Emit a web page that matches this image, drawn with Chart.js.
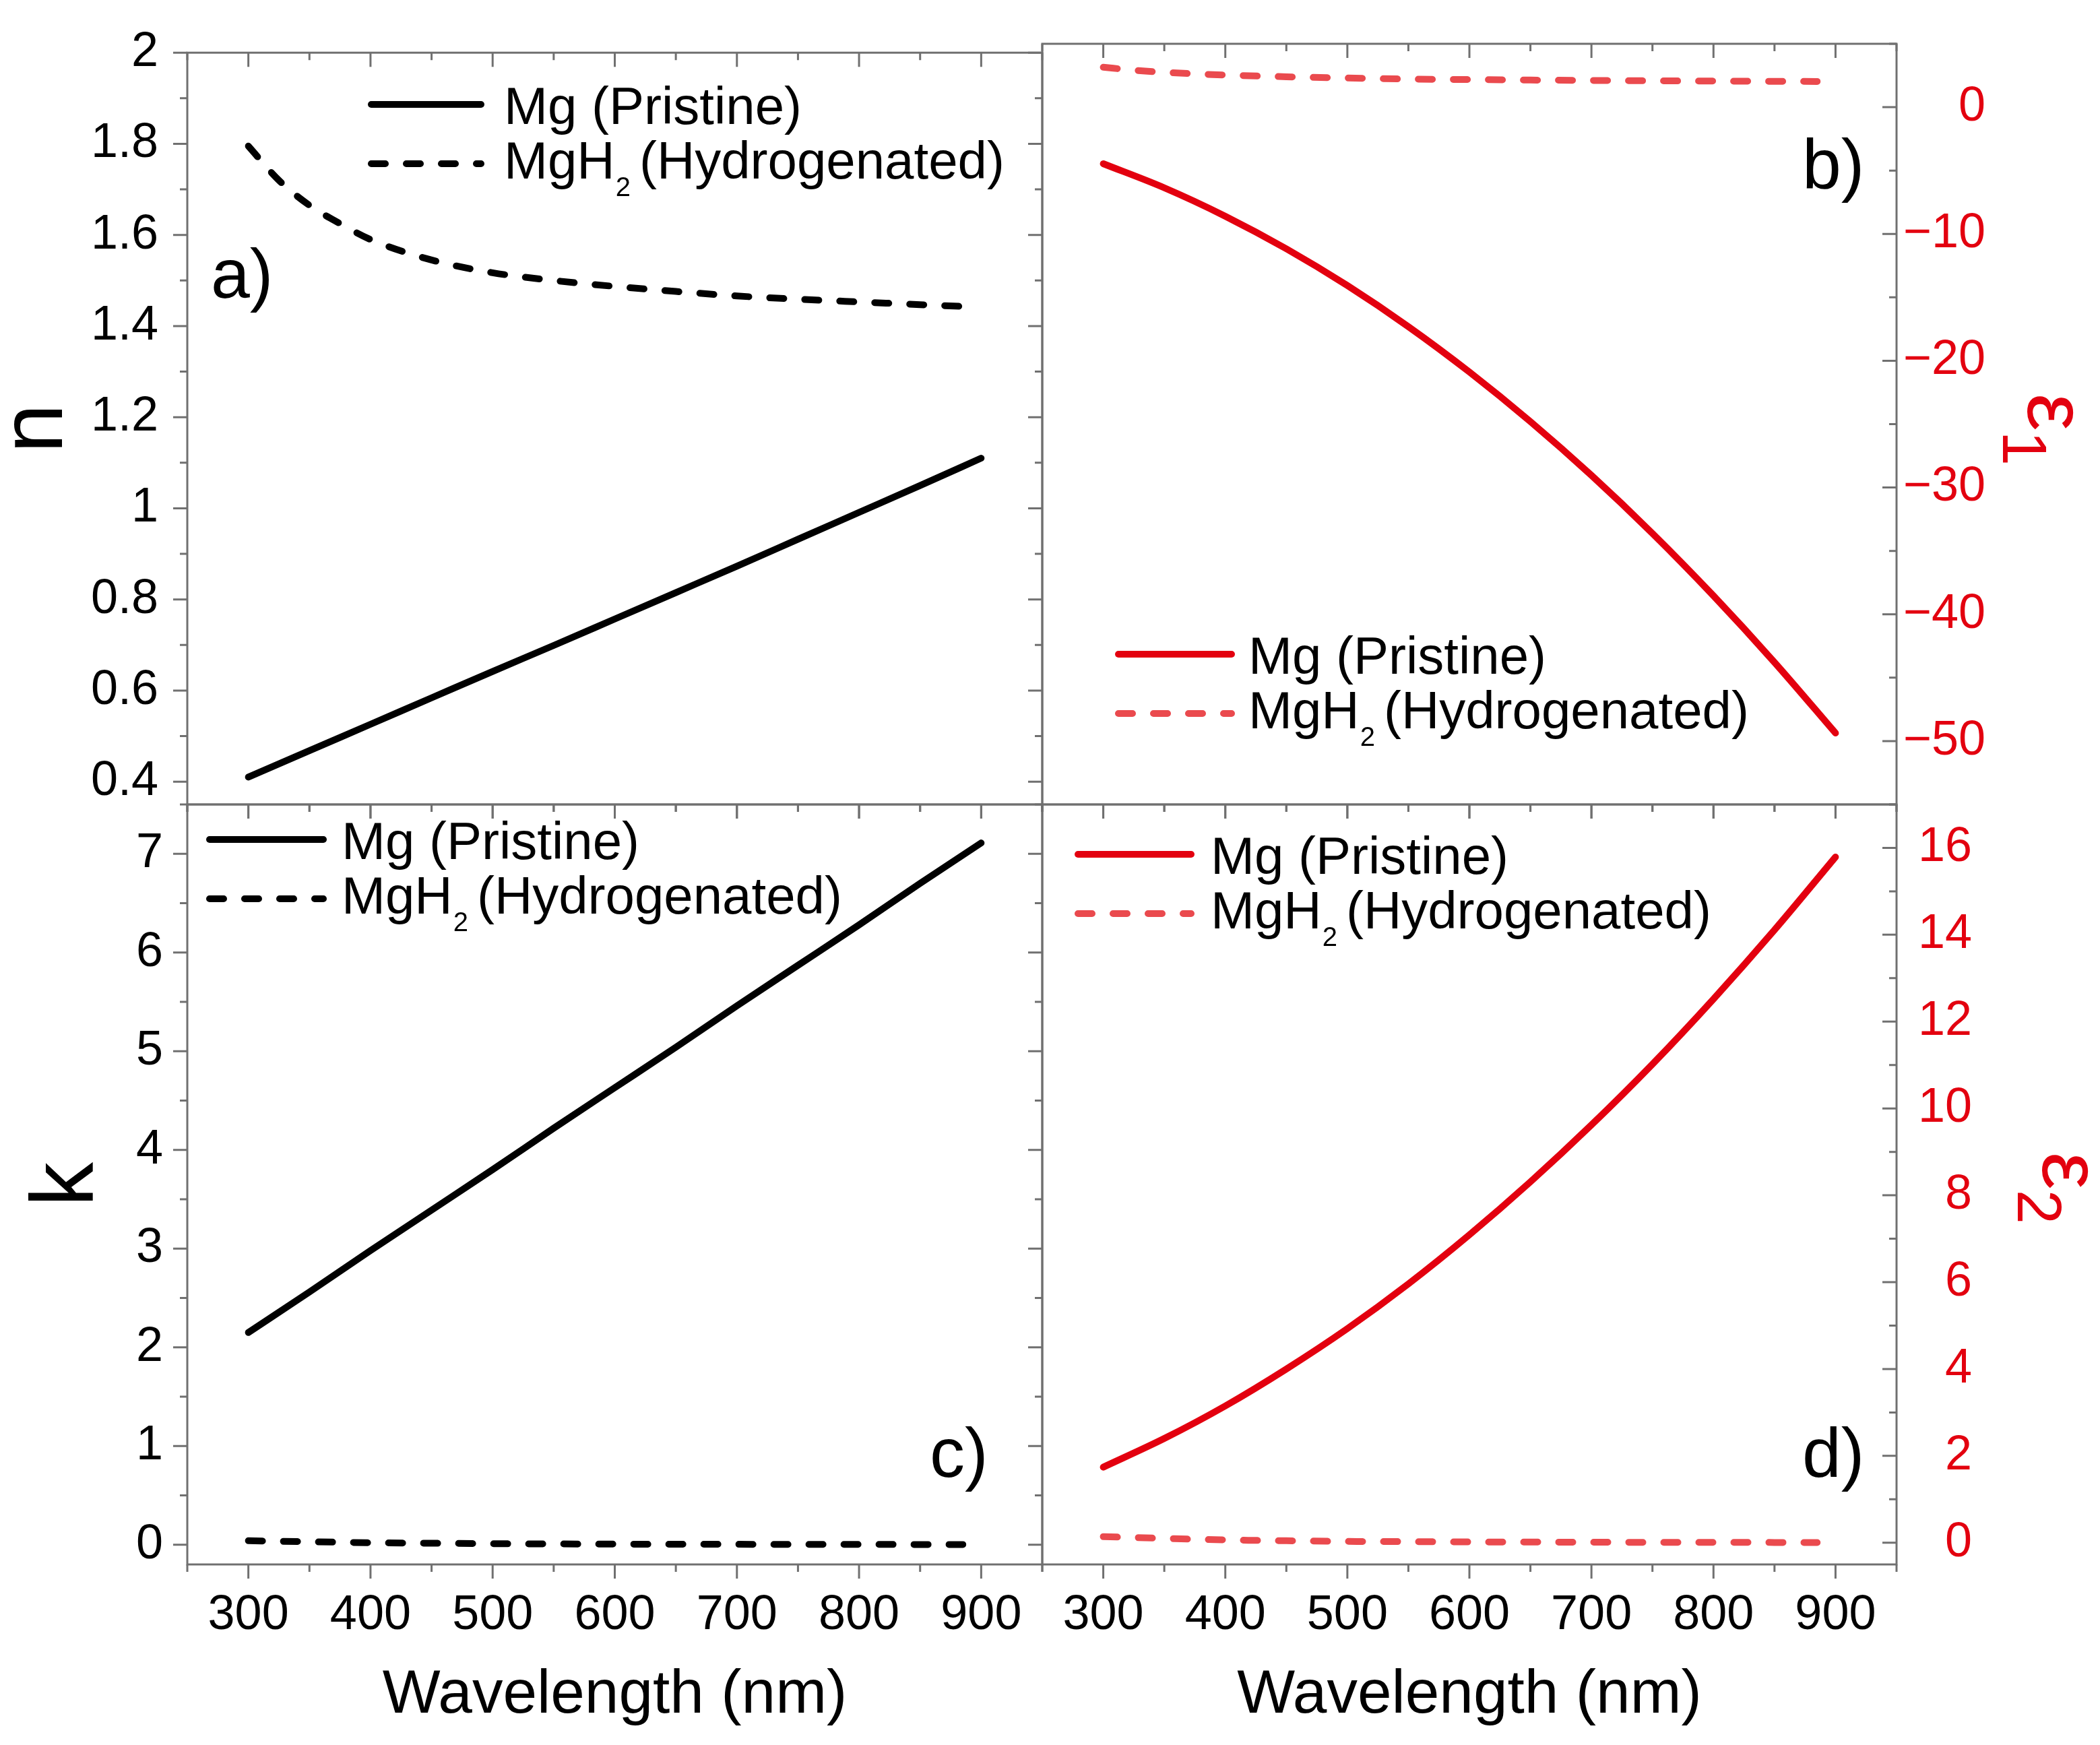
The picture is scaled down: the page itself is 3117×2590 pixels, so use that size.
<!DOCTYPE html>
<html>
<head>
<meta charset="utf-8">
<title>Mg / MgH2 optical constants</title>
<script src="https://cdn.jsdelivr.net/npm/chart.js"></script>
<style>
  html, body { margin: 0; padding: 0; background: #fff; }
  #wrap { position: relative; width: 3117px; height: 2590px; }
  #wrap canvas { position: absolute; left: 0; top: 0; }
</style>
</head>
<body>
<div id="wrap">
  <canvas id="panelA" width="3117" height="2590"></canvas>
  <canvas id="panelB" width="3117" height="2590"></canvas>
  <canvas id="panelC" width="3117" height="2590"></canvas>
  <canvas id="panelD" width="3117" height="2590"></canvas>
</div>
<script>
// values
const wavelengthMg   = [300, 350, 400, 450, 500, 550, 600, 650, 700, 750, 800, 850, 900];
const wavelengthMgH2 = [300, 325, 350, 375, 400, 450, 500, 550, 600, 650, 700, 750, 800, 850, 885];

const nMg     = [0.41, 0.468, 0.526, 0.584, 0.642, 0.699, 0.757, 0.815, 0.873, 0.932, 0.991, 1.05, 1.11];
const nMgH2   = [1.795, 1.72, 1.665, 1.625, 1.59, 1.545, 1.517, 1.50, 1.487, 1.476, 1.466, 1.459, 1.453, 1.447, 1.443];
const kMg     = [2.15, 2.56, 2.98, 3.39, 3.80, 4.22, 4.63, 5.04, 5.46, 5.87, 6.28, 6.70, 7.11];
const kMgH2   = [0.04, 0.035, 0.03, 0.025, 0.02, 0.015, 0.01, 0.008, 0.006, 0.005, 0.004, 0.003, 0.003, 0.002, 0.002];
const eps1Mg   = [-4.46, -6.36, -8.6, -11.17, -14.07, -17.31, -20.89, -24.8, -29.04, -33.62, -38.54, -43.79, -49.37];
const eps1MgH2 = [3.15, 2.92, 2.75, 2.63, 2.54, 2.4, 2.3, 2.22, 2.18, 2.14, 2.11, 2.08, 2.06, 2.04, 2.03];
const eps2Mg   = [1.74, 2.40, 3.15, 4.00, 4.93, 5.96, 7.09, 8.31, 9.62, 11.02, 12.52, 14.11, 15.79];
const eps2MgH2 = [0.14, 0.12, 0.10, 0.08, 0.065, 0.045, 0.03, 0.025, 0.018, 0.015, 0.012, 0.009, 0.008, 0.006, 0.005];

const seriesLabels = ['Mg (Pristine)', 'MgH\u2082 (Hydrogenated)'];

const wavelengthTicks = [300, 400, 500, 600, 700, 800, 900];
const wavelengthMinor = [250, 350, 450, 550, 650, 750, 850, 950];
const nTicks    = [0.4, 0.6, 0.8, 1, 1.2, 1.4, 1.6, 1.8, 2];
const nMinor    = [0.5, 0.7, 0.9, 1.1, 1.3, 1.5, 1.7, 1.9];
const kTicks    = [0, 1, 2, 3, 4, 5, 6, 7];
const kMinor    = [0.5, 1.5, 2.5, 3.5, 4.5, 5.5, 6.5, 7.5];
const eps1Ticks = [-50, -40, -30, -20, -10, 0];
const eps1Minor = [-55, -45, -35, -25, -15, -5, 5];
const eps2Ticks = [0, 2, 4, 6, 8, 10, 12, 14, 16];
const eps2Minor = [1, 3, 5, 7, 9, 11, 13, 15, 17];

const FONT = "'Liberation Sans', Arial, sans-serif";
const BLACK = '#000000';
const RED = '#E3000F';
const RED_DASH = '#EA4A4E';
const FRAME = '#707070';

function pts(xs, ys) {
  return xs.map((x, i) => ({ x: x, y: ys[i] }));
}

// frame, ticks pointing left/down, legend, panel tag, epsilon title
const panelDecor = {
  id: 'panelDecor',
  afterDatasetsDraw(chart, args, o) {
    const ctx = chart.ctx;
    const a = chart.chartArea;
    const xs = chart.scales.x, ys = chart.scales.y;
    ctx.save();
    ctx.strokeStyle = FRAME;
    ctx.lineWidth = 3;
    ctx.setLineDash([]);
    ctx.strokeRect(a.left, a.top, a.right - a.left, a.bottom - a.top);
    ctx.beginPath();
    const seg = (x1, y1, x2, y2) => { ctx.moveTo(x1, y1); ctx.lineTo(x2, y2); };
    wavelengthTicks.forEach(v => {
      const px = xs.getPixelForValue(v);
      seg(px, a.top, px, a.top + 21);
      seg(px, a.bottom, px, a.bottom + 21);
    });
    wavelengthMinor.forEach(v => {
      const px = xs.getPixelForValue(v);
      seg(px, a.top, px, a.top + 11);
      seg(px, a.bottom, px, a.bottom + 11);
    });
    const edges = o.bothEdges ? [a.left, a.right] : [a.right];
    o.yMajor.forEach(v => {
      const py = ys.getPixelForValue(v);
      edges.forEach(ex => seg(ex, py, ex - 21, py));
    });
    o.yMinor.forEach(v => {
      const py = ys.getPixelForValue(v);
      edges.forEach(ex => seg(ex, py, ex - 11, py));
    });
    ctx.stroke();

    // legend
    const lg = o.legend;
    chart.data.datasets.forEach((ds, i) => {
      const y = lg.y + i * 88;
      ctx.strokeStyle = ds.borderColor;
      ctx.lineWidth = ds.borderWidth;
      ctx.lineCap = 'round';
      ctx.setLineDash(ds.borderDash || []);
      ctx.beginPath();
      ctx.moveTo(lg.x0, y);
      ctx.lineTo(lg.x1, y);
      ctx.stroke();
      ctx.setLineDash([]);
      ctx.fillStyle = BLACK;
      ctx.textBaseline = 'alphabetic';
      ctx.textAlign = 'left';
      const base = y + (i === 0 ? 29 : 22);
      const parts = ds.legendParts;
      let x = lg.tx;
      ctx.font = '78px ' + FONT;
      ctx.fillText(parts[0], x, base);
      x += ctx.measureText(parts[0]).width;
      if (parts.length > 1) {
        ctx.font = '40px ' + FONT;
        ctx.fillText(parts[1], x + 1, base + 26);
        x += ctx.measureText(parts[1]).width + 14;
        ctx.font = '78px ' + FONT;
        ctx.fillText(parts[2], x, base);
      }
    });

    // panel tag
    ctx.font = '104px ' + FONT;
    ctx.fillStyle = BLACK;
    ctx.fillText(o.tag.text, o.tag.x, o.tag.y);

    // epsilon axis title, rotated clockwise
    if (o.eps) {
      ctx.translate(o.eps.x, o.eps.y);
      ctx.rotate(Math.PI / 2);
      ctx.fillStyle = RED;
      ctx.font = '125px ' + FONT;
      ctx.fillText('\u03b5', 0, 0);
      const w = ctx.measureText('\u03b5').width;
      ctx.font = '92px ' + FONT;
      ctx.fillText(o.eps.sub, w, 37);
    }
    ctx.restore();
  }
};

function fmtPlain(v) { return String(Math.round(v * 10) / 10); }
function fmtMinus(v) { return v < 0 ? '\u2212' + Math.abs(v) : String(v); }

function makePanel(id, p) {
  const yAxis = {
    type: 'linear',
    position: p.yPos,
    min: p.yMin,
    max: p.yMax,
    grid: { display: false },
    border: { display: false },
    afterBuildTicks: s => { s.ticks = p.yTicks.map(v => ({ value: v })); },
    afterFit: s => { s.width = p.yWidth; },
    ticks: {
      autoSkip: false,
      font: { family: FONT, size: 72 },
      color: p.yColor,
      padding: p.yPad,
      crossAlign: p.yPos === 'right' ? 'far' : 'near',
      callback: p.yFmt
    },
    title: p.yTitle ? {
      display: true,
      text: p.yTitle,
      color: BLACK,
      font: { family: FONT, size: 132, lineHeight: 0.7 },
      padding: { top: p.yTitlePad, bottom: 0 }
    } : { display: false }
  };
  const xAxis = p.showX ? {
    type: 'linear',
    min: 250,
    max: 950,
    grid: { display: false },
    border: { display: false },
    afterBuildTicks: s => { s.ticks = wavelengthTicks.map(v => ({ value: v })); },
    afterFit: s => { s.height = 268; },
    ticks: {
      autoSkip: false,
      maxRotation: 0,
      font: { family: FONT, size: 72 },
      color: BLACK,
      padding: 25
    },
    title: {
      display: true,
      text: 'Wavelength (nm)',
      color: BLACK,
      font: { family: FONT, size: 91 },
      padding: { top: 0, bottom: 18 }
    }
  } : { type: 'linear', min: 250, max: 950, display: false };

  return new Chart(document.getElementById(id), {
    type: 'scatter',
    data: {
      datasets: [
        {
          label: seriesLabels[0],
          legendParts: ['Mg (Pristine)'],
          data: pts(wavelengthMg, p.solid),
          showLine: true,
          borderColor: p.colors[0],
          borderWidth: 10,
          pointRadius: 0,
          cubicInterpolationMode: 'monotone',
          borderCapStyle: 'round'
        },
        {
          label: seriesLabels[1],
          legendParts: ['MgH', '2', '(Hydrogenated)'],
          data: pts(wavelengthMgH2, p.dashed),
          showLine: true,
          borderColor: p.colors[1],
          borderWidth: 10,
          borderDash: [21, 31],
          pointRadius: 0,
          cubicInterpolationMode: 'monotone',
          borderCapStyle: 'round'
        }
      ]
    },
    options: {
      responsive: false,
      animation: false,
      devicePixelRatio: 1,
      events: [],
      layout: { padding: p.pad },
      scales: { x: xAxis, y: yAxis },
      plugins: {
        legend: { display: false },
        tooltip: { enabled: false },
        panelDecor: {
          bothEdges: p.yPos === 'left',
          yMajor: p.yTicks,
          yMinor: p.yMinor,
          legend: p.legend,
          tag: p.tag,
          eps: p.eps
        }
      }
    },
    plugins: [panelDecor]
  });
}

makePanel('panelA', {
  solid: nMg, dashed: nMgH2, colors: [BLACK, BLACK],
  yPos: 'left', yMin: 0.35, yMax: 2, yTicks: nTicks, yMinor: nMinor,
  yWidth: 278, yPad: 35, yColor: BLACK, yFmt: fmtPlain,
  yTitle: 'n', yTitlePad: 9, showX: false,
  pad: { left: 0, top: 65, right: 1570, bottom: 1396 },
  legend: { x0: 551, x1: 714, y: 155, tx: 748 },
  tag: { text: 'a)', x: 313, y: 442 }
});

makePanel('panelB', {
  solid: eps1Mg, dashed: eps1MgH2, colors: [RED, RED_DASH],
  yPos: 'right', yMin: -55, yMax: 5, yTicks: eps1Ticks, yMinor: eps1Minor,
  yWidth: 132, yPad: 20, yColor: RED, yFmt: fmtMinus,
  yTitle: null, showX: false,
  pad: { left: 1547, top: 65, right: 170, bottom: 1396 },
  legend: { x0: 1660, x1: 1828, y: 971, tx: 1853 },
  tag: { text: 'b)', x: 2675, y: 279 },
  eps: { sub: '1', x: 3010, y: 584 }
});

makePanel('panelC', {
  solid: kMg, dashed: kMgH2, colors: [BLACK, BLACK],
  yPos: 'left', yMin: -0.2, yMax: 7.5, yTicks: kTicks, yMinor: kMinor,
  yWidth: 278, yPad: 28, yColor: BLACK, yFmt: fmtPlain,
  yTitle: 'k', yTitlePad: 55, showX: true,
  pad: { left: 0, top: 1194, right: 1570, bottom: 0 },
  legend: { x0: 311, x1: 480, y: 1246, tx: 507 },
  tag: { text: 'c)', x: 1380, y: 2192 }
});

makePanel('panelD', {
  solid: eps2Mg, dashed: eps2MgH2, colors: [RED, RED_DASH],
  yPos: 'right', yMin: -0.5, yMax: 17, yTicks: eps2Ticks, yMinor: eps2Minor,
  yWidth: 112, yPad: 20, yColor: RED, yFmt: fmtMinus,
  yTitle: null, showX: true,
  pad: { left: 1547, top: 1194, right: 190, bottom: 0 },
  legend: { x0: 1600, x1: 1768, y: 1268, tx: 1797 },
  tag: { text: 'd)', x: 2675, y: 2192 },
  eps: { sub: '2', x: 3032, y: 1710 }
});
</script>
</body>
</html>
